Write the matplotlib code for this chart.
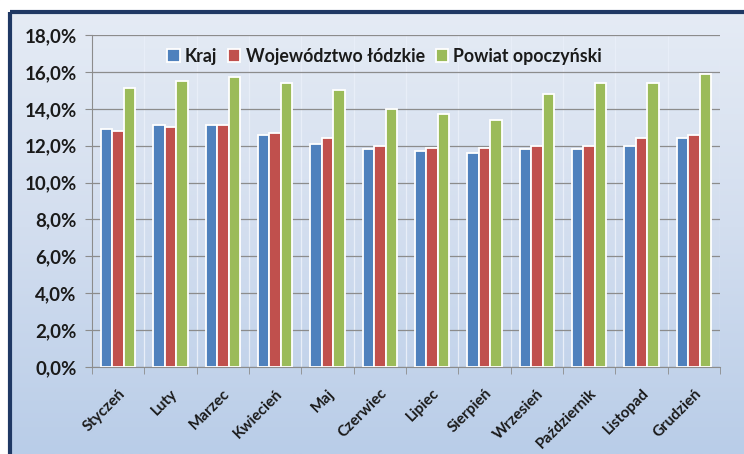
import numpy as np
import matplotlib.pyplot as plt
from matplotlib.patches import Rectangle
from matplotlib.colors import LinearSegmentedColormap

months = ['Styczeń', 'Luty', 'Marzec', 'Kwiecień', 'Maj', 'Czerwiec',
          'Lipiec', 'Sierpień', 'Wrzesień', 'Październik', 'Listopad', 'Grudzień']
kraj = [12.9, 13.1, 13.1, 12.6, 12.1, 11.8, 11.7, 11.6, 11.8, 11.8, 12.0, 12.4]
wojewodztwo = [12.8, 13.0, 13.1, 12.7, 12.4, 12.0, 11.9, 11.9, 12.0, 12.0, 12.4, 12.6]
powiat = [15.1, 15.5, 15.7, 15.4, 15.0, 14.0, 13.7, 13.4, 14.8, 15.4, 15.4, 15.9]
series_names = ['Kraj', 'Województwo łódzkie', 'Powiat opoczyński']
colors = ['#4F81BD', '#C0504D', '#9BBB59']
yticks = [0, 2, 4, 6, 8, 10, 12, 14, 16, 18]

plt.rcParams['font.family'] = ['Lato', 'DejaVu Sans']

fig = plt.figure(figsize=(7.44, 4.54), dpi=100)
fig.patch.set_facecolor('white')

# gradient background of the chart frame
bg = fig.add_axes([0, 0, 1, 1], zorder=-10)
grad = np.linspace(0, 1, 256).reshape(-1, 1)
cmap = LinearSegmentedColormap.from_list('bg', ['#E6ECF5', '#D3DEEF', '#B9CDE8'])
bg.imshow(grad, aspect='auto', cmap=cmap, extent=[0, 1, 0, 1], origin='upper')
bg.set_xlim(0, 1)
bg.set_ylim(0, 1)
bg.axis('off')
# white strip above and left of the frame
bg.add_patch(Rectangle((0, 1 - 12 / 454), 1, 12 / 454, color='white', zorder=2))
bg.add_patch(Rectangle((0, 0), 10 / 744, 1, color='white', zorder=2))
bg.plot([10 / 744, 10 / 744], [0, 1 - 12 / 454], color='#1F3864', lw=3, zorder=3,
        solid_capstyle='butt')
bg.plot([10 / 744, 1], [1 - 12 / 454, 1 - 12 / 454], color='#1F3864', lw=3, zorder=3,
        solid_capstyle='butt')

ax = fig.add_axes([92 / 744, 87 / 454, 628 / 744, 332 / 454])
ax.set_facecolor('none')

x = np.arange(len(months))
w = 0.22
for i, (vals, name) in enumerate(zip([kraj, wojewodztwo, powiat], series_names)):
    ax.bar(x + (i - 1) * w, vals, w, color=colors[i], edgecolor='white',
           linewidth=1.3, label=name, zorder=3)

ax.set_xlim(-0.5, len(months) - 0.5)
ax.set_ylim(0, 18)
ax.set_yticks(yticks)
ax.set_yticklabels([f'{v:.1f}%'.replace('.', ',') for v in yticks],
                   fontsize=13.5, fontweight='bold', color='#1a1a1a')
ax.set_xticks(x)
ax.set_xticklabels(months, rotation=45, ha='right', rotation_mode='anchor',
                   fontsize=11, fontweight='bold', color='#1a1a1a')
ax.tick_params(axis='x', length=0, pad=14)
ax.set_xticks(np.arange(-0.5, len(months)), minor=True)
ax.tick_params(axis='x', which='minor', length=5, color='#8c8c8c', direction='out')
ax.tick_params(axis='y', length=5, color='#8c8c8c', pad=6)

ax.grid(axis='y', color='#8c8c8c', linewidth=0.9, zorder=1)
for b in np.arange(-0.5, len(months)):
    ax.axvline(b, color='#e8eef8', linewidth=0.9, zorder=1)

for s in ['top', 'right']:
    ax.spines[s].set_visible(False)
ax.spines['left'].set_color('#8c8c8c')
ax.spines['bottom'].set_color('#8c8c8c')

ax.legend(loc='upper center', bbox_to_anchor=(0.466, 1.01), ncol=3, frameon=False,
          prop={'size': 12.8, 'weight': 'bold'}, handlelength=0.7, handleheight=0.7,
          handletextpad=0.3, columnspacing=0.6, labelcolor='#1a1a1a')

fig.savefig('out.png', dpi=100)
